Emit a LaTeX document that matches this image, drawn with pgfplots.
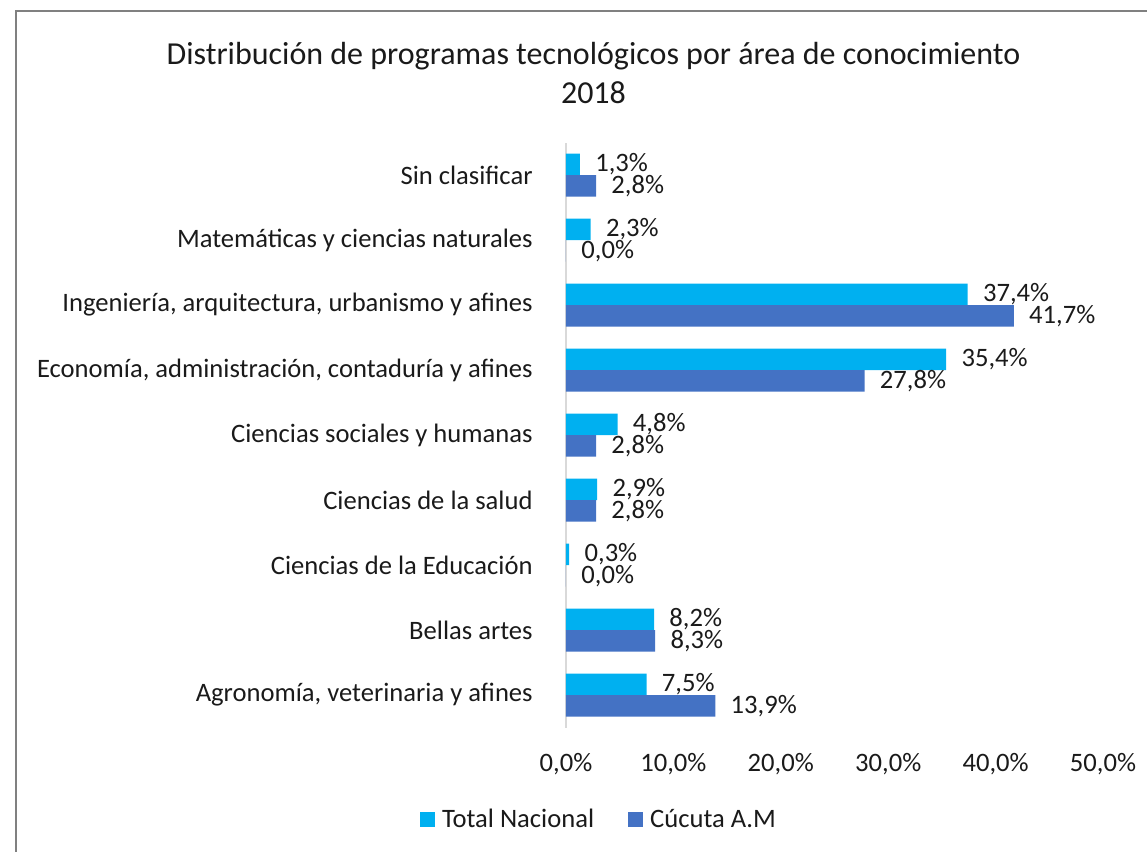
\documentclass[border=0pt]{standalone}
\usepackage{pgfplots}
\pgfplotsset{compat=1.18}
\usepackage{fontspec}
\setmainfont{Carlito}
\definecolor{cNac}{HTML}{00B0F0}
\definecolor{cCuc}{HTML}{4472C4}
\definecolor{axgray}{HTML}{D9D9D9}
\definecolor{frame}{HTML}{808080}
\definecolor{txt}{HTML}{1A1A1A}
\begin{document}
\begin{tikzpicture}
\useasboundingbox (0,0) rectangle (573.5pt,-426pt);
\begin{axis}[
  at={(283pt,-363.75pt)}, anchor=south west,
  scale only axis, width=268.5pt, height=292.5pt,
  xbar, bar width=10.75pt,
  xmin=0, xmax=50, ymin=-0.5, ymax=8.5,
  axis lines*=left,
  x axis line style={draw=none},
  y axis line style={draw=axgray, line width=0.75pt},
  xtick={0,10,20,30,40,50},
  xticklabel={\pgfmathprintnumber[fixed,fixed zerofill,precision=1,use comma]{\tick}\%},
  /pgf/number format/assume math mode=true,
  xticklabel style={anchor=center, yshift=-18.5pt},
  ytick={0,...,8},
  yticklabels={{Agronomía, veterinaria y afines}, Bellas artes, Ciencias de la Educación, Ciencias de la salud, Ciencias sociales y humanas, {Economía, administración, contaduría y afines}, {Ingeniería, arquitectura, urbanismo y afines}, Matemáticas y ciencias naturales, Sin clasificar},
  yticklabel style={anchor=east, inner sep=0pt, xshift=-16.5pt},
  major tick length=0pt,
  tick style={draw=none},
  ticklabel style={font=\fontsize{13.3}{15}\selectfont, text=txt},
  point meta=x,
  nodes near coords={\pgfmathprintnumber[fixed,fixed zerofill,precision=1,use comma]{\pgfplotspointmeta}\%},
  nodes near coords style={anchor=west, inner sep=0pt, xshift=7.5pt, font=\fontsize{13.3}{15}\selectfont, text=txt},
  title={Distribución de programas tecnológicos por área de conocimiento\\2018},
  title style={at={(0.0512,1.099)}, anchor=center, align=center, font=\fontsize{16}{19.5}\selectfont, text=txt},
  legend columns=2,
  legend style={at={(0.0633,-0.158)}, anchor=center, draw=none, font=\fontsize{13.3}{15}\selectfont, text=txt,
    /tikz/every even column/.append style={column sep=15pt}},
  legend image code/.code={\fill[#1] (0pt,-3.75pt) rectangle (7.5pt,3.75pt);},
]
\addplot[fill=cNac, draw=none, bar shift=5.375pt] coordinates {
 (7.5,0) (8.2,1) (0.3,2) (2.9,3) (4.8,4) (35.4,5) (37.4,6) (2.3,7) (1.3,8)};
\addplot[fill=cCuc, draw=none, bar shift=-5.375pt] coordinates {
 (13.9,0) (8.3,1) (0.0,2) (2.8,3) (2.8,4) (27.8,5) (41.7,6) (0.0,7) (2.8,8)};
\legend{\hspace{1.5pt}Total Nacional, \hspace{1.5pt}Cúcuta A.M}
\end{axis}
\draw[frame, line width=1pt] (8pt,-440pt) -- (8pt,-5.5pt) -- (580pt,-5.5pt);
\end{tikzpicture}
\end{document}
